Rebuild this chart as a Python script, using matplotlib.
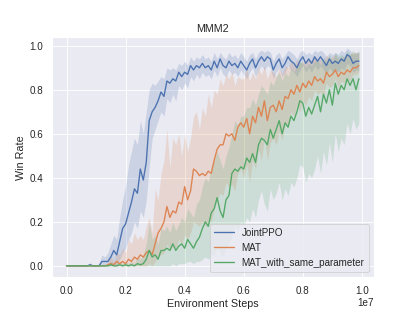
import numpy as np
import matplotlib
matplotlib.use("Agg")
import matplotlib.pyplot as plt
import seaborn as sns

# environment steps, one point every 1e5
steps = np.arange(100) * 1e5

ppo_mean = [0, 0, 0, 0, 0, 0, 0, 0, 0.005, 0,
            0, 0, 0.02, 0.02, 0.02, 0.04, 0.07, 0.05, 0.11, 0.17,
            0.19, 0.24, 0.29, 0.35, 0.33, 0.44, 0.39, 0.47, 0.66, 0.70,
            0.72, 0.75, 0.79, 0.77, 0.84, 0.83, 0.85, 0.84, 0.88, 0.86,
            0.88, 0.87, 0.91, 0.89, 0.91, 0.90, 0.92, 0.90, 0.91, 0.89,
            0.93, 0.90, 0.94, 0.91, 0.90, 0.93, 0.91, 0.92, 0.90, 0.93,
            0.91, 0.89, 0.92, 0.94, 0.90, 0.93, 0.95, 0.93, 0.95, 0.94,
            0.89, 0.92, 0.94, 0.90, 0.92, 0.95, 0.93, 0.92, 0.90, 0.93,
            0.95, 0.92, 0.94, 0.92, 0.95, 0.93, 0.95, 0.93, 0.91, 0.94,
            0.92, 0.93, 0.92, 0.94, 0.93, 0.96, 0.95, 0.92, 0.93, 0.93]
ppo_lo = [0, 0, 0, 0, 0, 0, 0, 0, 0, 0,
          0, 0, 0, 0, 0, 0, 0.01, 0, 0.03, 0.06,
          0.08, 0.12, 0.15, 0.20, 0.17, 0.25, 0.22, 0.30, 0.45, 0.58,
          0.62, 0.66, 0.70, 0.68, 0.76, 0.74, 0.78, 0.75, 0.82, 0.80,
          0.83, 0.81, 0.86, 0.84, 0.87, 0.85, 0.88, 0.86, 0.87, 0.85,
          0.89, 0.86, 0.90, 0.87, 0.86, 0.89, 0.87, 0.88, 0.86, 0.89,
          0.87, 0.85, 0.88, 0.90, 0.86, 0.89, 0.91, 0.89, 0.91, 0.90,
          0.85, 0.88, 0.90, 0.86, 0.88, 0.91, 0.89, 0.88, 0.86, 0.89,
          0.91, 0.88, 0.90, 0.88, 0.91, 0.89, 0.91, 0.89, 0.87, 0.90,
          0.88, 0.89, 0.88, 0.90, 0.89, 0.92, 0.91, 0.88, 0.89, 0.89]
ppo_hi = [0, 0, 0, 0, 0, 0, 0, 0, 0.015, 0,
          0, 0.01, 0.05, 0.04, 0.06, 0.10, 0.14, 0.12, 0.22, 0.30,
          0.36, 0.46, 0.52, 0.58, 0.55, 0.66, 0.60, 0.70, 0.80, 0.83,
          0.82, 0.84, 0.86, 0.85, 0.90, 0.89, 0.90, 0.89, 0.92, 0.91,
          0.93, 0.91, 0.95, 0.93, 0.95, 0.94, 0.96, 0.94, 0.95, 0.93,
          0.97, 0.94, 0.97, 0.95, 0.94, 0.97, 0.95, 0.96, 0.94, 0.97,
          0.95, 0.93, 0.96, 0.97, 0.94, 0.97, 0.98, 0.97, 0.98, 0.97,
          0.93, 0.96, 0.97, 0.94, 0.96, 0.98, 0.97, 0.96, 0.94, 0.97,
          0.98, 0.96, 0.97, 0.96, 0.98, 0.97, 0.98, 0.97, 0.95, 0.97,
          0.96, 0.97, 0.96, 0.98, 0.97, 0.99, 0.98, 0.96, 0.97, 0.97]

mat_mean = [0, 0, 0, 0, 0, 0, 0, 0, 0, 0,
            0, 0, 0, 0, 0.005, 0.01, 0.005, 0.02, 0.01, 0.02,
            0.01, 0.03, 0.02, 0.04, 0.03, 0.05, 0.04, 0.06, 0.07, 0.05,
            0.10, 0.15, 0.17, 0.20, 0.27, 0.22, 0.25, 0.24, 0.29, 0.28,
            0.36, 0.30, 0.34, 0.44, 0.43, 0.41, 0.42, 0.41, 0.43, 0.42,
            0.48, 0.53, 0.55, 0.55, 0.60, 0.59, 0.60, 0.57, 0.63, 0.65,
            0.63, 0.67, 0.60, 0.68, 0.65, 0.72, 0.68, 0.75, 0.66, 0.72,
            0.73, 0.70, 0.75, 0.71, 0.77, 0.76, 0.80, 0.78, 0.82, 0.79,
            0.83, 0.81, 0.84, 0.82, 0.86, 0.84, 0.85, 0.83, 0.88, 0.86,
            0.87, 0.89, 0.86, 0.88, 0.87, 0.89, 0.88, 0.90, 0.90, 0.91]
mat_lo = [0, 0, 0, 0, 0, 0, 0, 0, 0, 0,
          0, 0, 0, 0, 0, 0, 0, 0, 0, 0,
          0, 0, 0, 0, 0, 0, 0, 0, 0.01, 0,
          0.02, 0.04, 0.05, 0.06, 0.10, 0.07, 0.09, 0.08, 0.12, 0.10,
          0.14, 0.12, 0.15, 0.20, 0.19, 0.18, 0.20, 0.18, 0.21, 0.20,
          0.26, 0.30, 0.33, 0.32, 0.38, 0.36, 0.37, 0.34, 0.42, 0.44,
          0.40, 0.46, 0.38, 0.48, 0.44, 0.53, 0.48, 0.58, 0.48, 0.56,
          0.58, 0.55, 0.61, 0.57, 0.65, 0.64, 0.70, 0.68, 0.73, 0.70,
          0.75, 0.73, 0.77, 0.75, 0.80, 0.78, 0.79, 0.77, 0.83, 0.81,
          0.82, 0.85, 0.81, 0.84, 0.83, 0.85, 0.84, 0.87, 0.87, 0.88]
mat_hi = [0, 0, 0, 0, 0, 0, 0, 0, 0, 0,
          0, 0, 0, 0, 0.02, 0.04, 0.02, 0.06, 0.05, 0.08,
          0.06, 0.12, 0.10, 0.15, 0.12, 0.14, 0.12, 0.18, 0.22, 0.15,
          0.35, 0.30, 0.42, 0.48, 0.62, 0.45, 0.58, 0.55, 0.60, 0.50,
          0.60, 0.52, 0.58, 0.68, 0.70, 0.62, 0.72, 0.68, 0.78, 0.72,
          0.80, 0.78, 0.85, 0.82, 0.87, 0.85, 0.88, 0.82, 0.86, 0.85,
          0.85, 0.90, 0.84, 0.88, 0.85, 0.90, 0.87, 0.91, 0.85, 0.89,
          0.88, 0.86, 0.90, 0.87, 0.91, 0.90, 0.93, 0.91, 0.94, 0.92,
          0.93, 0.92, 0.94, 0.93, 0.95, 0.94, 0.94, 0.92, 0.96, 0.94,
          0.95, 0.96, 0.94, 0.95, 0.95, 0.96, 0.96, 0.97, 0.97, 0.97]

same_mean = [0, 0, 0, 0, 0, 0, 0, 0, 0, 0,
             0, 0, 0, 0, 0, 0.005, 0, 0, 0.005, 0,
             0.005, 0, 0.005, 0, 0.01, 0.005, 0.01, 0.03, 0.07, 0.04,
             0.05, 0.03, 0.07, 0.07, 0.08, 0.07, 0.10, 0.07, 0.09, 0.10,
             0.08, 0.12, 0.10, 0.08, 0.11, 0.13, 0.17, 0.20, 0.18, 0.24,
             0.26, 0.31, 0.25, 0.22, 0.30, 0.32, 0.42, 0.44, 0.43, 0.45,
             0.44, 0.49, 0.47, 0.51, 0.47, 0.55, 0.58, 0.57, 0.55, 0.62,
             0.58, 0.62, 0.66, 0.60, 0.65, 0.63, 0.68, 0.66, 0.70, 0.75,
             0.74, 0.68, 0.72, 0.69, 0.73, 0.77, 0.70, 0.78, 0.74, 0.80,
             0.73, 0.83, 0.78, 0.82, 0.80, 0.85, 0.82, 0.85, 0.80, 0.85]
same_lo = [0, 0, 0, 0, 0, 0, 0, 0, 0, 0,
           0, 0, 0, 0, 0, 0, 0, 0, 0, 0,
           0, 0, 0, 0, 0, 0, 0, 0, 0, 0,
           0, 0, 0, 0, 0, 0, 0.01, 0, 0.01, 0.01,
           0.01, 0.02, 0.02, 0.01, 0.02, 0.02, 0.03, 0.04, 0.03, 0.05,
           0.05, 0.08, 0.06, 0.04, 0.08, 0.10, 0.14, 0.18, 0.16, 0.20,
           0.18, 0.22, 0.20, 0.26, 0.22, 0.30, 0.34, 0.28, 0.25, 0.35,
           0.30, 0.33, 0.38, 0.30, 0.35, 0.32, 0.38, 0.36, 0.40, 0.46,
           0.45, 0.38, 0.42, 0.40, 0.44, 0.50, 0.42, 0.52, 0.46, 0.56,
           0.47, 0.60, 0.52, 0.58, 0.55, 0.65, 0.60, 0.67, 0.62, 0.65]
same_hi = [0, 0, 0, 0, 0, 0, 0, 0, 0, 0,
           0, 0, 0, 0, 0.005, 0.02, 0.01, 0.01, 0.02, 0.01,
           0.02, 0.01, 0.02, 0.01, 0.04, 0.03, 0.05, 0.10, 0.20, 0.12,
           0.14, 0.10, 0.17, 0.16, 0.18, 0.15, 0.20, 0.16, 0.19, 0.22,
           0.20, 0.26, 0.24, 0.22, 0.28, 0.30, 0.36, 0.40, 0.38, 0.45,
           0.48, 0.52, 0.48, 0.44, 0.50, 0.54, 0.60, 0.66, 0.64, 0.68,
           0.68, 0.72, 0.72, 0.76, 0.73, 0.78, 0.82, 0.80, 0.78, 0.84,
           0.82, 0.86, 0.88, 0.84, 0.88, 0.86, 0.90, 0.88, 0.91, 0.93,
           0.92, 0.90, 0.92, 0.91, 0.93, 0.94, 0.91, 0.95, 0.93, 0.96,
           0.93, 0.97, 0.95, 0.96, 0.95, 0.98, 0.96, 0.98, 0.96, 0.98]

labels = ["JointPPO", "MAT", "MAT_with_same_parameter"]


def main():
    sns.set_theme(style="darkgrid")
    plt.rcParams['font.family'] = ['Liberation Sans', 'DejaVu Sans']
    colors = sns.color_palette("deep")
    fig, ax = plt.subplots(figsize=(6.4, 4.8), dpi=64.85)

    runs = [(ppo_mean, ppo_lo, ppo_hi),
            (mat_mean, mat_lo, mat_hi),
            (same_mean, same_lo, same_hi)]
    for (mean, lo, hi), label, c in zip(runs, labels, colors):
        ax.plot(steps, mean, color=c, label=label, linewidth=1.5)
        ax.fill_between(steps, lo, hi, color=c, alpha=0.2, linewidth=0)

    ax.set_title("MMM2")
    ax.set_xlabel("Environment Steps")
    ax.set_ylabel("Win Rate")
    ax.legend(loc="lower right")

    fig.savefig("out.png")


if __name__ == '__main__':
    main()
